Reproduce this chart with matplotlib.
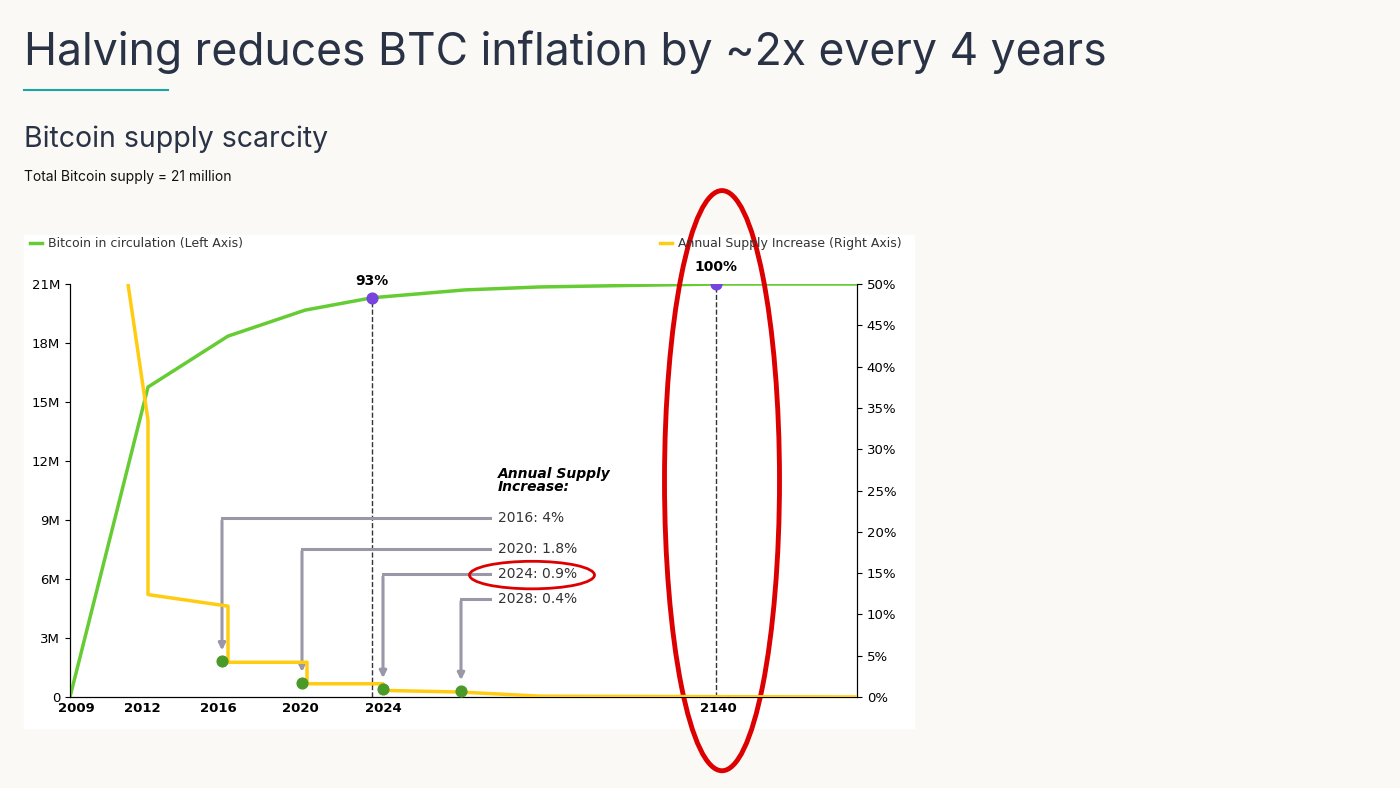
import matplotlib
matplotlib.use("Agg")
import matplotlib.pyplot as plt
from matplotlib.patches import Ellipse, Rectangle
import numpy as np

W, H = 1400, 788
# x positions are in "chart units" (0 = 2009)
xtick_pos = [6, 72, 148, 230, 313, 648]
xtick_labels = ["2009", "2012", "2016", "2020", "2024", "2140"]
circ_x = [0, 78, 158, 235, 302, 395, 470, 648, 787]
circ_m = [0, 15.76, 18.35, 19.67, 20.3, 20.7, 20.85, 21.0, 21.0]
sup_x = [58, 78, 78, 158, 158, 237, 237, 313, 313, 390, 470, 787]
sup_pct = [50, 33.5, 12.4, 11.0, 4.2, 4.2, 1.6, 1.6, 0.8, 0.6, 0.1, 0.0]
dot_x = [152, 232, 313, 391]
dot_pct = [4.3, 1.7, 0.95, 0.7]
ann_labels = ["2016: 4%", "2020: 1.8%", "2024: 0.9%", "2028: 0.4%"]
ann_y_m = [9.1, 7.55, 6.25, 5.0]
pct_marks_x = [302, 646]
pct_marks_m = [20.3, 21.0]
pct_marks_lbl = ["93%", "100%"]

fig = plt.figure(figsize=(14, 7.88), dpi=100)
fig.patch.set_facecolor("#faf9f5")
fig.text(24/W, 1-52/H, "Halving reduces BTC inflation by ~2x every 4 years",
         fontsize=32, color="#2a3346", va="center", family="Inter")
fig.add_artist(plt.Line2D([24/W, 168/W], [1-90/H]*2, color="#1aa5a5", lw=1.5))
fig.text(24/W, 1-139/H, "Bitcoin supply scarcity", fontsize=20.5, color="#2a3346",
         va="center", family="Inter")
fig.text(24/W, 1-177/H, "Total Bitcoin supply = 21 million", fontsize=10,
         color="#111", va="center", family="Inter")
fig.add_artist(Rectangle((24/W, 1-728/H), 890/W, 493/H, color="white",
                         transform=fig.transFigure, zorder=0))

ax = fig.add_axes([70/W, 1-697/H, 787/W, 413/H])
ax.set_facecolor("none")
ax.set_xlim(0, 787)
ax.set_ylim(0, 21)
ax2 = ax.twinx()
ax2.set_ylim(0, 50)
for a in (ax, ax2):
    a.spines["top"].set_visible(False)
ax.set_yticks(np.arange(0, 22, 3))
ax.set_yticklabels(["0"] + [f"{v}M" for v in range(3, 22, 3)], fontsize=9.5)
ax2.set_yticks(np.arange(0, 51, 5))
ax2.set_yticklabels([f"{v}%" for v in range(0, 51, 5)], fontsize=9.5)
ax.set_xticks(xtick_pos)
ax.set_xticklabels(xtick_labels, fontsize=9.5, fontweight="bold")
ax.tick_params(axis="x", length=0)

ax.plot(circ_x, circ_m, color="#66cc33", lw=2.5, zorder=3)
ax2.plot(sup_x, sup_pct, color="#ffcc11", lw=2.5, zorder=3)
ax2.scatter(dot_x, dot_pct, s=60, color="#4a9a2a", zorder=5)
for x, m, l in zip(pct_marks_x, pct_marks_m, pct_marks_lbl):
    ax.plot([x, x], [0, m], ls="--", color="#333", lw=1, zorder=2)
    ax.scatter([x], [m], s=60, color="#7744dd", zorder=6)
    ax.text(x, m + 0.5, l, ha="center", va="bottom", fontsize=10, fontweight="bold")

for dx, ym, lbl, dp in zip(dot_x, ann_y_m, ann_labels, dot_pct):
    ax.plot([420, dx], [ym, ym], color="#9a98a8", lw=2.2, zorder=2)
    ax2.annotate("", xy=(dx, dp + 1.0), xytext=(dx, ym * 50 / 21),
                 arrowprops=dict(arrowstyle="-|>", color="#9a98a8", lw=2.2), zorder=2)
    ax.text(428, ym, lbl, va="center", fontsize=10, color="#333")
ax.text(428, 10.3, "Annual Supply\nIncrease:", fontsize=10, fontweight="bold",
        style="italic", va="bottom", linespacing=0.95)

ax.add_patch(Ellipse((652, 11.0), 115, 29.5, fill=False, ec="#dd0000", lw=3.5,
                     clip_on=False, zorder=7))
ax.add_patch(Ellipse((462, 6.2), 125, 1.4, fill=False, ec="#dd0000", lw=2,
                     clip_on=False, zorder=7))

# legend
fig.add_artist(plt.Line2D([30/W, 42/W], [1-243/H]*2, color="#66cc33", lw=2.5))
fig.text(48/W, 1-243/H, "Bitcoin in circulation (Left Axis)", fontsize=9, va="center", color="#333")
fig.add_artist(plt.Line2D([660/W, 672/W], [1-243/H]*2, color="#ffcc11", lw=2.5))
fig.text(678/W, 1-243/H, "Annual Supply Increase (Right Axis)", fontsize=9, va="center", color="#333")

fig.savefig("out.png", dpi=100, facecolor=fig.get_facecolor())
